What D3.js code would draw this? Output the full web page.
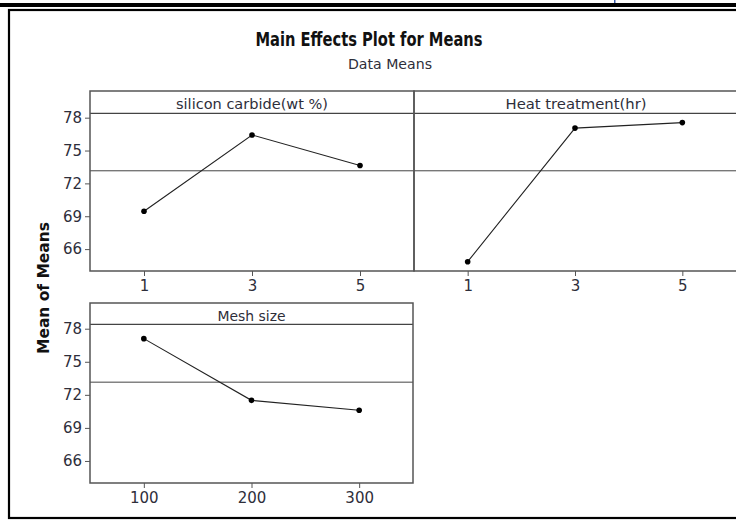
<!DOCTYPE html>
<html lang="en">
<head>
<meta charset="utf-8">
<script src="https://d3js.org/d3.v7.min.js"></script>
<style>
  body { margin: 0; background: #fff; }
  svg { display: block; }
</style>
</head>
<body>
<div id="chart"></div>
<script>
// data
const factors = ['silicon carbide(wt %)', 'Heat treatment(hr)', 'Mesh size'];
const siliconLevels = ['1', '3', '5'];
const siliconMeans = [69.45, 76.42, 73.64];
const heatLevels = ['1', '3', '5'];
const heatMeans = [64.85, 77.05, 77.55];
const meshLevels = ['100', '200', '300'];
const meshMeans = [77.1, 71.5, 70.6];
const grandMean = 73.15;
const yTicks = [66, 69, 72, 75, 78];
const yDomain = [64.0, 78.4];

const W = 736, H = 521;
const tickFont = '"DejaVu Sans", sans-serif';
const condFont = '"DejaVu Sans Condensed", "DejaVu Sans", sans-serif';

const svg = d3.select('#chart').append('svg')
    .attr('width', W).attr('height', H);

// page rules / frame of the cropped figure
svg.append('rect').attr('x', 0).attr('y', 3).attr('width', W).attr('height', 4).attr('fill', '#000');
svg.append('rect').attr('x', 614).attr('y', 0).attr('width', 1.5).attr('height', 3).attr('fill', '#3a5aa8');
svg.append('rect').attr('x', 9).attr('y', 10).attr('width', W + 10).attr('height', 508)
    .attr('fill', 'none').attr('stroke', '#000').attr('stroke-width', 2.2);

// titles
svg.append('text').text('Main Effects Plot for Means')
    .attr('x', 369).attr('y', 46).attr('text-anchor', 'middle')
    .attr('textLength', 227).attr('lengthAdjust', 'spacingAndGlyphs')
    .style('font-family', condFont)
    .style('font-weight', 'bold').style('font-size', '19.5px').attr('fill', '#111');
svg.append('text').text('Data Means')
    .attr('x', 390).attr('y', 69).attr('text-anchor', 'middle')
    .attr('textLength', 84).attr('lengthAdjust', 'spacingAndGlyphs')
    .style('font-family', condFont)
    .style('font-size', '14px').attr('fill', '#2e2e3a');
svg.append('text').text('Mean of Means')
    .attr('transform', 'translate(49,288) rotate(-90)')
    .attr('text-anchor', 'middle')
    .attr('textLength', 132).attr('lengthAdjust', 'spacingAndGlyphs')
    .style('font-family', condFont)
    .style('font-weight', 'bold').style('font-size', '15px').attr('fill', '#111');

const panels = [
  { name: factors[0], levels: siliconLevels, means: siliconMeans, x0: 90, x1: 414, top: 91, stripH: 22.3, bottom: 271, yAxis: true, labelW: 152 },
  { name: factors[1], levels: heatLevels, means: heatMeans, x0: 414, x1: 736, top: 91, stripH: 22.3, bottom: 271, yAxis: false, labelW: 141 },
  { name: factors[2], levels: meshLevels, means: meshMeans, x0: 90, x1: 413, top: 303, stripH: 21.3, bottom: 483, yAxis: true, labelW: 68 }
];

panels.forEach(p => {
  const g = svg.append('g');
  const plotTop = p.top + p.stripH;

  const x = d3.scalePoint().domain(p.levels).range([p.x0, p.x1]).padding(0.5);
  const y = d3.scaleLinear().domain(yDomain).range([p.bottom, plotTop]);

  // grand mean reference line
  g.append('line')
    .attr('x1', p.x0).attr('x2', p.x1)
    .attr('y1', y(grandMean)).attr('y2', y(grandMean))
    .attr('stroke', '#444').attr('stroke-width', 1);

  // axes
  const xa = g.append('g').attr('transform', `translate(0,${p.bottom})`)
    .call(d3.axisBottom(x).tickSize(5).tickPadding(4))
    .attr('font-family', tickFont).attr('font-size', 15);
  xa.select('.domain').remove();
  xa.selectAll('line').attr('stroke', '#555');
  xa.selectAll('text').attr('fill', '#2e2e3a');

  if (p.yAxis) {
    const ya = g.append('g').attr('transform', `translate(${p.x0},0)`)
      .call(d3.axisLeft(y).tickValues(yTicks).tickSize(5).tickPadding(3))
      .attr('font-family', tickFont).attr('font-size', 15);
    ya.select('.domain').remove();
    ya.selectAll('line').attr('stroke', '#555');
    ya.selectAll('text').attr('fill', '#2e2e3a');
  }

  // mean line and points
  const pts = p.levels.map((l, i) => ({ l: l, v: p.means[i] }));
  g.append('path').datum(pts)
    .attr('fill', 'none').attr('stroke', '#222').attr('stroke-width', 1.1)
    .attr('d', d3.line().x(d => x(d.l)).y(d => y(d.v)));
  g.selectAll('circle').data(pts).enter().append('circle')
    .attr('cx', d => x(d.l)).attr('cy', d => y(d.v)).attr('r', 2.8)
    .attr('fill', '#000');

  // strip + panel border
  g.append('line')
    .attr('x1', p.x0).attr('x2', p.x1)
    .attr('y1', plotTop).attr('y2', plotTop)
    .attr('stroke', '#444').attr('stroke-width', 1.3);
  g.append('rect')
    .attr('x', p.x0).attr('y', p.top)
    .attr('width', p.x1 - p.x0 + (p.yAxis ? 0 : 4)).attr('height', p.bottom - p.top)
    .attr('fill', 'none').attr('stroke', '#555').attr('stroke-width', 1.5);
  g.append('text').text(p.name)
    .attr('x', (p.x0 + (p.yAxis ? p.x1 : p.x1 + 2)) / 2).attr('y', p.top + 17.5)
    .attr('text-anchor', 'middle')
    .attr('textLength', p.labelW).attr('lengthAdjust', 'spacingAndGlyphs')
    .style('font-family', condFont)
    .style('font-size', '14px').attr('fill', '#2e2e3a');
});
</script>
</body>
</html>
